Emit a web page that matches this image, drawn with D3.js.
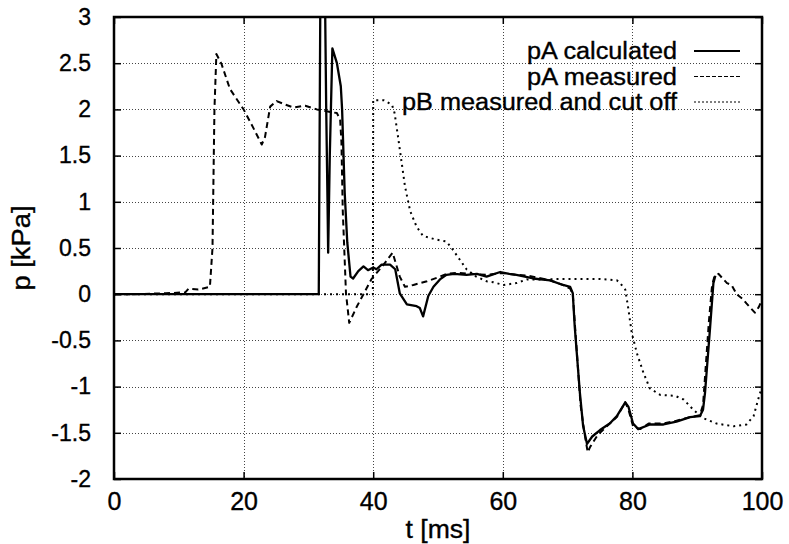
<!DOCTYPE html>
<html><head><meta charset="utf-8">
<script src="https://cdn.jsdelivr.net/npm/d3@7"></script>
<style>body{margin:0;background:#fff}svg{display:block}text{font-family:"Liberation Sans",Arial,Helvetica,sans-serif;fill:#000;stroke:#000;stroke-width:0.35px}</style>
</head><body>
<svg id="c" width="789" height="544"></svg>
<script>
const xTicks = [0, 20, 40, 60, 80, 100];
const yTicks = [-2, -1.5, -1, -0.5, 0, 0.5, 1, 1.5, 2, 2.5, 3];
const yTickLabels = ["-2", "-1.5", "-1", "-0.5", "0", "0.5", "1", "1.5", "2", "2.5", "3"];
const seriesNames = ["pA calculated", "pA measured", "pB measured and cut off"];

const calcT = [0, 31.6, 31.85, 32.55, 32.75, 32.95, 33.05, 33.3, 33.7, 34.4, 35.0, 35.2, 35.6, 36.0, 36.5, 36.9, 37.7, 38.5, 39.2, 40.0, 40.5, 41.3, 42.6, 43.4, 44.1, 45.2, 46.7, 47.2, 47.7, 48.5, 49.3, 50.3, 51.3, 52.5, 54.4, 56, 57.5, 59.6, 61, 62.1, 64.7, 67.3, 69.3, 70.4, 70.8, 71.1, 71.9, 72.4, 73.0, 73.8, 75.0, 76.5, 77.6, 78.9, 79.4, 80.1, 80.9, 82.7, 84.8, 86.8, 88.9, 90.4, 90.9, 91.2, 92.0, 92.5, 92.8];
const calcP = [0, 0, 3.3, 3.3, 2.0, 1.0, 0.45, 1.5, 2.66, 2.5, 2.25, 2.0, 1.1, 0.56, 0.19, 0.17, 0.25, 0.3, 0.26, 0.29, 0.27, 0.32, 0.32, 0.27, 0.01, -0.11, -0.13, -0.15, -0.24, -0.02, 0.08, 0.16, 0.21, 0.22, 0.21, 0.22, 0.19, 0.24, 0.22, 0.21, 0.17, 0.15, 0.1, 0.08, 0.01, -0.35, -1.07, -1.43, -1.62, -1.54, -1.47, -1.40, -1.32, -1.17, -1.22, -1.40, -1.46, -1.41, -1.41, -1.38, -1.33, -1.32, -1.25, -1.07, -0.35, 0.12, 0.2];

const measT = [0, 3, 8, 11, 11.5, 13, 14.8, 15.2, 15.5, 15.8, 16.6, 17.9, 20.0, 21.5, 22.8, 23.3, 24.1, 25.1, 26.5, 27.7, 29.5, 31.3, 32.8, 34.4, 34.9, 35.1, 35.3, 35.8, 36.3, 37.5, 38.5, 39.7, 41.6, 43.0, 44.1, 44.9, 46.2, 48.3, 50.3, 51.3, 53, 55, 57.5, 60, 62, 64, 67.3, 69.3, 70.4, 70.8, 71.2, 72.0, 72.6, 73.1, 73.5, 74.5, 75.0, 76.5, 77.6, 78.9, 79.4, 80.1, 81.2, 82.5, 84.8, 86.8, 88.9, 90.4, 90.9, 91.3, 91.8, 92.3, 92.7, 93.3, 93.8, 94.6, 95.3, 96.1, 97.0, 97.6, 98.9, 99.5, 100];
const measP = [0, 0, 0.01, 0.02, 0.06, 0.05, 0.08, 0.5, 2.0, 2.6, 2.49, 2.22, 2.0, 1.8, 1.62, 1.7, 2.03, 2.09, 2.05, 2.02, 2.04, 2.0, 1.98, 1.96, 1.89, 1.64, 0.91, 0.01, -0.31, -0.13, 0.0, 0.16, 0.32, 0.45, 0.19, 0.08, 0.1, 0.14, 0.19, 0.22, 0.23, 0.22, 0.21, 0.23, 0.21, 0.2, 0.15, 0.1, 0.06, 0.0, -0.4, -1.2, -1.5, -1.71, -1.65, -1.54, -1.50, -1.40, -1.33, -1.17, -1.25, -1.43, -1.46, -1.40, -1.40, -1.37, -1.33, -1.31, -1.2, -0.8, -0.3, 0.1, 0.2, 0.22, 0.18, 0.12, 0.1, 0.0, -0.05, -0.1, -0.2, -0.14, -0.06];

const pbT = [0, 39.95, 40.0, 41.6, 42.9, 43.3, 43.9, 44.4, 44.9, 45.7, 46.7, 47.7, 48.2, 49.8, 51.3, 52.1, 53.4, 54.4, 55.9, 57.5, 58.5, 60.1, 62.1, 63.7, 66.7, 68.8, 75, 77.6, 78.1, 78.9, 79.4, 79.9, 80.7, 81.7, 82.7, 84.3, 86.6, 87.9, 89.4, 90.9, 93.0, 95.6, 97.6, 98.7, 99.4, 100];
const pbP = [0, 0, 2.1, 2.1, 2.05, 1.96, 1.67, 1.42, 1.17, 0.9, 0.73, 0.63, 0.62, 0.59, 0.57, 0.5, 0.37, 0.27, 0.19, 0.14, 0.13, 0.1, 0.12, 0.16, 0.16, 0.165, 0.165, 0.15, 0.12, 0.05, -0.17, -0.42, -0.64, -0.85, -1.02, -1.09, -1.10, -1.14, -1.25, -1.34, -1.40, -1.43, -1.41, -1.32, -1.14, -1.0];

const svg = d3.select("#c");
const L = 114, R = 762, T = 17, B = 479;
const x = d3.scaleLinear().domain([0, 100]).range([L, R]);
const y = d3.scaleLinear().domain([-2, 3]).range([B, T]);

// grid
const grid = svg.append("g").attr("stroke", "#444").attr("stroke-width", 1).attr("stroke-dasharray", "1,2");
grid.selectAll(".gx").data(xTicks.filter(d => d > 0 && d < 100)).join("line")
  .attr("x1", d => Math.round(x(d)) + 0.5).attr("x2", d => Math.round(x(d)) + 0.5).attr("y1", T).attr("y2", B);
grid.selectAll(".gy").data(yTicks.filter(d => d > -2 && d < 3)).join("line")
  .attr("y1", d => Math.round(y(d)) + 0.5).attr("y2", d => Math.round(y(d)) + 0.5).attr("x1", L).attr("x2", R);

// axes (ticks inward, mirrored)
const ax = svg.append("g").attr("transform", `translate(0,${B})`)
  .call(d3.axisBottom(x).tickValues(xTicks).tickSize(-7).tickPadding(16).tickFormat(d3.format("d")));
const ax2 = svg.append("g").attr("transform", `translate(0,${T})`)
  .call(d3.axisTop(x).tickValues(xTicks).tickSize(-7).tickFormat(""));
const ay = svg.append("g").attr("transform", `translate(${L},0)`)
  .call(d3.axisLeft(y).tickValues(yTicks).tickSize(-7).tickPadding(23).tickFormat((d, i) => yTickLabels[i]));
const ay2 = svg.append("g").attr("transform", `translate(${R},0)`)
  .call(d3.axisRight(y).tickValues(yTicks).tickSize(-7).tickFormat(""));
[ax, ax2, ay, ay2].forEach(g => {
  g.select(".domain").remove();
  g.selectAll(".tick line").attr("stroke", "#000").attr("stroke-width", 1.5);
  g.selectAll("text").attr("fill", "#000").attr("font-family", null);
});
ay.selectAll("text").style("font-size", "23px");
ax.selectAll("text").style("font-size", "25px").attr("dy", "0.6em");

// series
const clip = svg.append("clipPath").attr("id", "pc").append("rect")
  .attr("x", L).attr("y", T).attr("width", R - L).attr("height", B - T);
const line = d3.line().x(d => x(d[0])).y(d => y(d[1]));
const series = [
  {t: calcT, p: calcP, dash: null, w: 2.3},
  {t: measT, p: measP, dash: "6,4", w: 2},
  {t: pbT, p: pbP, dash: "2,4", w: 2}
];
const plot = svg.append("g").attr("clip-path", "url(#pc)");
series.forEach(s => {
  plot.append("path").datum(s.t.map((t, i) => [t, s.p[i]]))
    .attr("d", line).attr("fill", "none").attr("stroke", "#000")
    .attr("stroke-width", s.w).attr("stroke-linejoin", "round")
    .attr("stroke-dasharray", s.dash);
});

// frame
svg.append("rect").attr("x", L).attr("y", T).attr("width", R - L).attr("height", B - T)
  .attr("fill", "none").attr("stroke", "#000").attr("stroke-width", 2.5);

// legend
const legendW = [150, 150, 275];
const lg = svg.append("g");
seriesNames.forEach((n, i) => {
  const yy = 51 + i * 25.5;
  lg.append("text").attr("x", 677).attr("y", yy).attr("dy", "0.35em").attr("text-anchor", "end")
    .style("font-size", "23px").attr("textLength", legendW[i]).attr("lengthAdjust", "spacingAndGlyphs").text(n);
  lg.append("line").attr("x1", 694).attr("x2", 740).attr("y1", yy).attr("y2", yy)
    .attr("stroke", "#000").attr("stroke-width", series[i].dash ? 1.2 : 2)
    .attr("stroke-dasharray", series[i].dash ? (i === 1 ? "4,2" : "2,2") : null);
});

// axis titles
svg.append("text").attr("x", 438).attr("y", 529).attr("dy", "0.35em").attr("text-anchor", "middle")
  .style("font-size", "25px").attr("textLength", 65).attr("lengthAdjust", "spacingAndGlyphs").text("t [ms]");
svg.append("text").attr("transform", "translate(21,248) rotate(-90)").attr("dy", "0.35em")
  .attr("text-anchor", "middle").style("font-size", "25px").attr("textLength", 85).attr("lengthAdjust", "spacingAndGlyphs").text("p [kPa]");
</script>
</body></html>
